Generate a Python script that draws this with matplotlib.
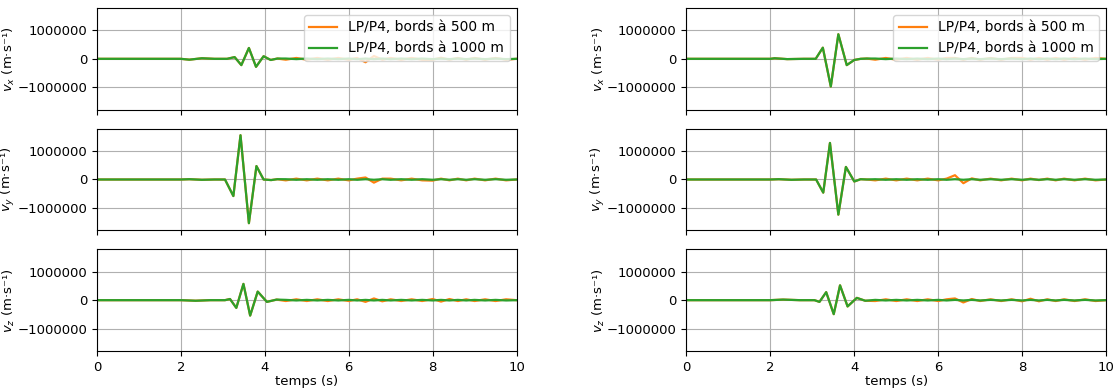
import matplotlib
matplotlib.use("Agg")
import matplotlib.pyplot as plt
import numpy as np

# values, velocities in units of 1e6 m/s
t_tail = [4.5, 4.75, 5.0, 5.25, 5.5, 5.75, 6.0, 6.2, 6.4, 6.6, 6.8, 7.0, 7.25,
          7.5, 7.75, 8.0, 8.2, 8.4, 8.6, 8.8, 9.0, 9.25, 9.5, 9.75, 10.0]

# tail of the 1000 m run (almost flat)
tail_1000 = [0.01, -0.01, 0.01, -0.01, 0.01, -0.01, 0.01, -0.01, 0.01, -0.01, 0.01, -0.01, 0.01,
             -0.01, 0.01, -0.01, 0.01, -0.01, 0.01, -0.01, 0.01, -0.01, 0.01, -0.01, 0.0]

# left column
t_vx_l = [0, 2.0, 2.2, 2.5, 2.8, 3.1, 3.28, 3.44, 3.62, 3.79, 3.97, 4.14, 4.3]
vx_l = [0, 0, -0.03, 0.02, 0, 0, 0.06, -0.22, 0.38, -0.28, 0.09, -0.04, 0.01]
vx_l_500 = [-0.03, 0.03, -0.03, 0.03, -0.03, 0.03, -0.03, 0.03, -0.12, 0.10, -0.03, 0.03, -0.03,
            0.03, -0.03, -0.03, 0.04, -0.03, 0.03, -0.03, 0.03, -0.03, 0.03, -0.03, 0.0]

t_vy_l = [0, 2.0, 2.2, 2.5, 2.8, 3.05, 3.25, 3.42, 3.62, 3.80, 3.97, 4.15, 4.3]
vy_l = [0, 0, 0.01, -0.01, 0, 0, -0.58, 1.55, -1.53, 0.47, 0, -0.02, 0.01]
vy_l_500 = [-0.03, 0.03, -0.03, 0.03, -0.03, 0.03, -0.03, 0.03, 0.07, -0.11, 0.03, 0.03, -0.03,
            0.03, -0.03, -0.04, 0.03, -0.03, 0.03, -0.03, 0.03, -0.03, 0.03, -0.03, 0.0]

t_vz_l = [0, 2.0, 2.35, 2.7, 3.05, 3.17, 3.32, 3.49, 3.65, 3.83, 4.05, 4.28]
vz_l = [0, 0, -0.02, 0, 0, 0.04, -0.27, 0.57, -0.54, 0.30, -0.06, 0.02]
vz_l_500 = [-0.03, 0.03, -0.03, 0.03, -0.03, 0.03, -0.03, 0.03, -0.06, 0.06, -0.04, 0.03, -0.03,
            0.03, -0.03, 0.04, -0.05, 0.04, -0.03, 0.03, -0.03, 0.03, -0.03, 0.03, 0.0]

# right column
t_vx_r = [0, 2.0, 2.1, 2.4, 2.8, 3.08, 3.25, 3.44, 3.62, 3.82, 4.0, 4.15, 4.3]
vx_r = [0, 0, 0.02, -0.01, 0, 0, 0.39, -0.97, 0.86, -0.22, -0.04, 0, 0.01]
vx_r_500 = [-0.03, 0.03, -0.03, 0.03, -0.03, 0.03, -0.03, 0.03, 0.03, -0.03, 0.03, -0.03, 0.03,
            -0.03, 0.03, 0.03, -0.03, 0.03, -0.03, 0.03, -0.03, 0.03, -0.03, 0.03, 0.0]

t_vy_r = [0, 2.0, 2.2, 2.5, 2.8, 3.09, 3.26, 3.42, 3.62, 3.80, 4.0, 4.15, 4.3]
vy_r = [0, 0, 0.01, -0.01, 0, 0, -0.46, 1.28, -1.23, 0.44, -0.07, 0.01, 0.0]
vy_r_500 = [-0.03, 0.03, -0.03, 0.03, -0.03, 0.03, -0.03, 0.03, 0.15, -0.13, 0.04, -0.03, 0.03,
            -0.03, 0.03, -0.03, 0.03, -0.02, 0.03, -0.03, 0.03, -0.03, 0.03, -0.03, 0.0]

t_vz_r = [0, 2.0, 2.3, 2.7, 3.05, 3.17, 3.33, 3.51, 3.66, 3.84, 4.06, 4.26]
vz_r = [0, 0, 0.02, 0, 0, -0.06, 0.28, -0.49, 0.52, -0.22, 0.08, -0.02]
vz_r_500 = [-0.03, 0.03, -0.03, 0.03, -0.03, 0.03, -0.03, 0.03, 0.06, -0.08, 0.04, -0.03, 0.03,
            -0.03, 0.03, -0.04, 0.05, -0.04, 0.03, -0.03, 0.03, -0.03, 0.03, -0.03, 0.0]

labels = ["LP/P4, bords à 500 m", "LP/P4, bords à 1000 m"]
ylabels = ["$v_x$ (m·s⁻¹)", "$v_y$ (m·s⁻¹)", "$v_z$ (m·s⁻¹)"]

panels = [
    [(t_vx_l, vx_l, vx_l_500), (t_vx_r, vx_r, vx_r_500)],
    [(t_vy_l, vy_l, vy_l_500), (t_vy_r, vy_r, vy_r_500)],
    [(t_vz_l, vz_l, vz_l_500), (t_vz_r, vz_r, vz_r_500)],
]

fig, axes = plt.subplots(3, 2, sharex=True, figsize=(11.19, 3.92), dpi=100)
fig.subplots_adjust(left=0.0867, right=0.9884, top=0.9796, bottom=0.1046,
                    hspace=0.187, wspace=0.405)

for row in range(3):
    for col in range(2):
        ax = axes[row, col]
        t_head, head, tail_500 = panels[row][col]
        t = np.array(t_head + t_tail)
        ax.plot(t, np.array(head + tail_500) * 1e6, color="C1", lw=1.6, label=labels[0])
        ax.plot(t, np.array(head + tail_1000) * 1e6, color="C2", lw=1.6, label=labels[1])
        ax.set_xlim(0, 10)
        ax.set_ylim(-1.78e6, 1.78e6)
        ax.set_yticks([-1000000, 0, 1000000])
        ax.ticklabel_format(axis="y", style="plain", useOffset=False)
        ax.tick_params(labelsize=9.5)
        ax.set_ylabel(ylabels[row], fontsize=9.5)
        ax.yaxis.set_label_coords(-0.19, 0.5)
        ax.grid(True)
        if row == 0:
            ax.legend(loc="upper right")
        if row == 2:
            ax.set_xlabel("temps (s)", fontsize=9.5, labelpad=1)
            ax.set_xticks([0, 2, 4, 6, 8, 10])

plt.savefig("out.png", dpi=100)
